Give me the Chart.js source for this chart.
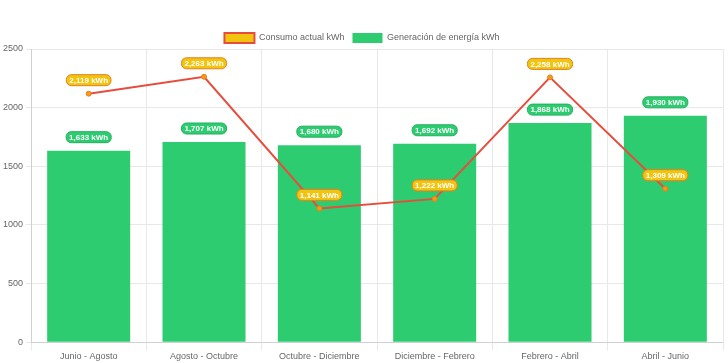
<!DOCTYPE html>
<html>
	<head>
		<meta charset="utf-8"/>
		<title>Consumo y generación</title>
		<script src="https://cdn.jsdelivr.net/npm/chart.js@4.4.1/dist/chart.umd.min.js"></script>
		<style>
			html, body { margin: 0; padding: 0; background: #fff; }
			#wrap { width: 728px; height: 363px; }
		</style>
	</head>
	<body>
		<div id="wrap"><canvas id="energia_chart"></canvas></div>
		<script>
			// datos
			const periodos = ['Junio - Agosto', 'Agosto - Octubre', 'Octubre - Diciembre', 'Diciembre - Febrero', 'Febrero - Abril', 'Abril - Junio'];
			const consumo = [2119, 2263, 1141, 1222, 2258, 1309];
			const generacion = [1633, 1707, 1680, 1692, 1868, 1930];
			const yTicks = [0, 500, 1000, 1500, 2000, 2500];

			const fuente = "Arial, 'Liberation Sans', sans-serif";

			function roundRect(ctx, x, y, w, h, r)
			{
				ctx.beginPath();
				ctx.moveTo(x + r, y);
				ctx.arcTo(x + w, y, x + w, y + h, r);
				ctx.arcTo(x + w, y + h, x, y + h, r);
				ctx.arcTo(x, y + h, x, y, r);
				ctx.arcTo(x, y, x + w, y, r);
				ctx.closePath();
			}

			// leyenda un poco mas baja de alto
			const leyendaCompacta = {
				id: 'leyendaCompacta',
				beforeInit(chart)
				{
					const fitOrig = chart.legend.fit;
					chart.legend.fit = function()
					{
						fitOrig.call(this);
						this.height -= 4;
					};
				}
			};

			// etiquetas tipo "datalabels" dibujadas a mano
			const etiquetas = {
				id: 'etiquetas',
				afterDatasetsDraw(chart)
				{
					const ctx = chart.ctx;
					const orden = [1, 0];	// primero barras, luego linea encima
					orden.forEach(di =>
					{
						const ds = chart.data.datasets[di];
						const meta = chart.getDatasetMeta(di);
						meta.data.forEach((el, i) =>
						{
							const txt = ds.data[i].toLocaleString('en-US') + ' kWh';
							ctx.save();
							ctx.font = 'bold 8px ' + fuente;
							const w = ctx.measureText(txt).width + 6;
							const h = 11;
							const cx = el.x;
							const cy = el.y - 8 - h / 2;
							roundRect(ctx, cx - w / 2, cy - h / 2, w, h, 5);
							ctx.fillStyle = ds.labelFondo;
							ctx.fill();
							ctx.lineWidth = 1;
							ctx.strokeStyle = ds.labelBorde;
							ctx.stroke();
							ctx.fillStyle = '#fff';
							ctx.textAlign = 'center';
							ctx.textBaseline = 'middle';
							ctx.fillText(txt, cx, cy + 0.5);
							ctx.restore();
						});
					});
				}
			};

			const ctx = document.getElementById('energia_chart').getContext('2d');
			new Chart(ctx, {
				type: 'bar',
				data: {
					labels: periodos,
					datasets: [
						{
							type: 'line',
							label: 'Consumo actual kWh',
							data: consumo,
							borderColor: '#e74c3c',
							backgroundColor: '#f1c40f',
							borderWidth: 2,
							pointRadius: 2.5,
							pointBorderWidth: 1,
							pointBorderColor: '#e67e22',
							pointBackgroundColor: '#f39c12',
							tension: 0,
							fill: false,
							labelFondo: '#f1c40f',
							labelBorde: '#e67e22'
						},
						{
							label: 'Generación de energía kWh',
							data: generacion,
							backgroundColor: '#2ecc71',
							borderColor: '#2ecc71',
							borderWidth: 0,
							labelFondo: '#2ecc71',
							labelBorde: '#27ae60'
						}
					]
				},
				options: {
					responsive: true,
					maintainAspectRatio: false,
					animation: false,
					layout: { padding: { top: 25, right: 4, left: 0, bottom: 0 } },
					plugins: {
						legend: {
							position: 'top',
							labels: {
								boxWidth: 30,
								boxHeight: 10,
								padding: 8,
								color: '#666',
								font: { family: fuente, size: 9 }
							}
						},
						tooltip: { enabled: false }
					},
					scales: {
						x: {
							grid: { color: '#e8e8e8' },
							ticks: { color: '#666', padding: 1, font: { family: fuente, size: 9 } }
						},
						y: {
							min: 0,
							max: yTicks[yTicks.length - 1],
							afterBuildTicks: axis => { axis.ticks = yTicks.map(v => ({ value: v })); },
							grid: { color: '#e8e8e8', tickLength: 5 },
							ticks: {
								color: '#666',
								padding: 3,
								font: { family: fuente, size: 9 },
								callback: v => String(v)
							}
						}
					}
				},
				plugins: [leyendaCompacta, etiquetas]
			});
		</script>
	</body>
</html>
